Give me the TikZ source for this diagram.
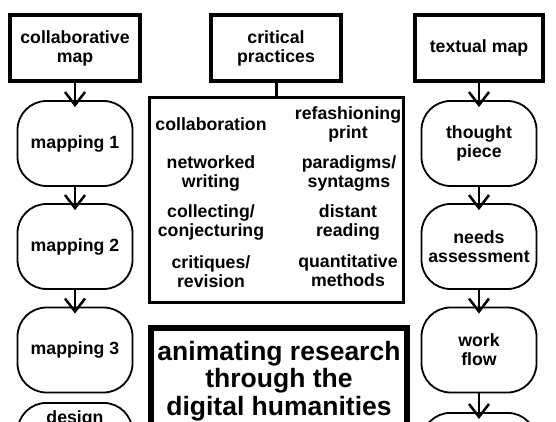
\documentclass[tikz,border=0pt]{standalone}
\usepackage{fontspec}
\setmainfont{Liberation Sans}
\usetikzlibrary{arrows.meta}

\begin{document}
\begin{tikzpicture}[x=1pt, y=-1pt]
    \tikzstyle{every node}=[font=\bfseries\fontsize{17.7}{19}\selectfont, align=center]
    \tikzstyle{headbox}=[draw, line width=4.5pt, minimum width=130pt, minimum height=66pt]
    \tikzstyle{stepbox}=[draw, line width=1.8pt, rounded corners=29pt, minimum width=115pt, minimum height=85pt]
    \tikzstyle{listbox}=[draw, line width=3pt, minimum width=254pt, minimum height=205pt]
    \tikzstyle{titlebox}=[draw, line width=6pt, minimum width=256pt, minimum height=106pt, font=\bfseries\fontsize{26.5}{27.5}\selectfont]
    \tikzstyle{flow}=[->, >={Straight Barb[length=13pt 0, width=20pt 0]}, shorten >=-7pt, line width=2.5pt]

    % Canvas
    \path[use as bounding box, fill=white] (0,0) rectangle (556,422);
    \clip (0,0) rectangle (556,422);

    % Headings
	\node[headbox] (cmap) at (75,48) {collaborative\\map};
	\node[headbox] (crit) at (276,48) {critical\\practices};
	\node[headbox, minimum width=128pt] (tmap) at (479,48) {textual map};

	% Left column
	\node[stepbox] (map1) at (75,143.5) {mapping 1};
	\node[stepbox] (map2) at (75,246.5) {mapping 2};
	\node[stepbox] (map3) at (75,350) {mapping 3};
	\node[stepbox, anchor=north, text height=13pt, text depth=60pt, inner ysep=8pt] (design) at (75,402) {design};

	% Right column
	\node[stepbox] (thought) at (479,143.5) {thought\\piece};
	\node[stepbox] (needs) at (479,246.5) {needs\\assessment};
	\node[stepbox] (work) at (479,350) {work\\flow};
	\node[stepbox, anchor=north] (next) at (479,412) {};

	% Practices
	\node[listbox] (list) at (276.5,200) {};
	\node (collab) at (211,124) {collaboration};
	\node (netw) at (211,173) {networked\\writing};
	\node (collect) at (211,222) {collecting/\\conjecturing};
	\node (critq) at (211,272) {critiques/\\revision};
	\node (refash) at (348,124) {refashioning\\print};
	\node (parad) at (349,173) {paradigms/\\syntagms};
	\node (dist) at (348,222) {distant\\reading};
	\node (quant) at (348,271) {quantitative\\methods};

	% Title
	\node[titlebox] (title) at (279,381) {animating research\\through the\\digital humanities};

    % Connections
	\draw[flow] (cmap) -- (map1);
	\draw[flow] (map1) -- (map2);
	\draw[flow] (map2) -- (map3);

	\draw[flow] (tmap) -- (thought);
	\draw[flow] (thought) -- (needs);
	\draw[flow] (needs) -- (work);
	\draw[flow] (work) -- (next);

	\draw[line width=2.5pt] (crit.south -| list.north) -- (list);
\end{tikzpicture}
\end{document}
